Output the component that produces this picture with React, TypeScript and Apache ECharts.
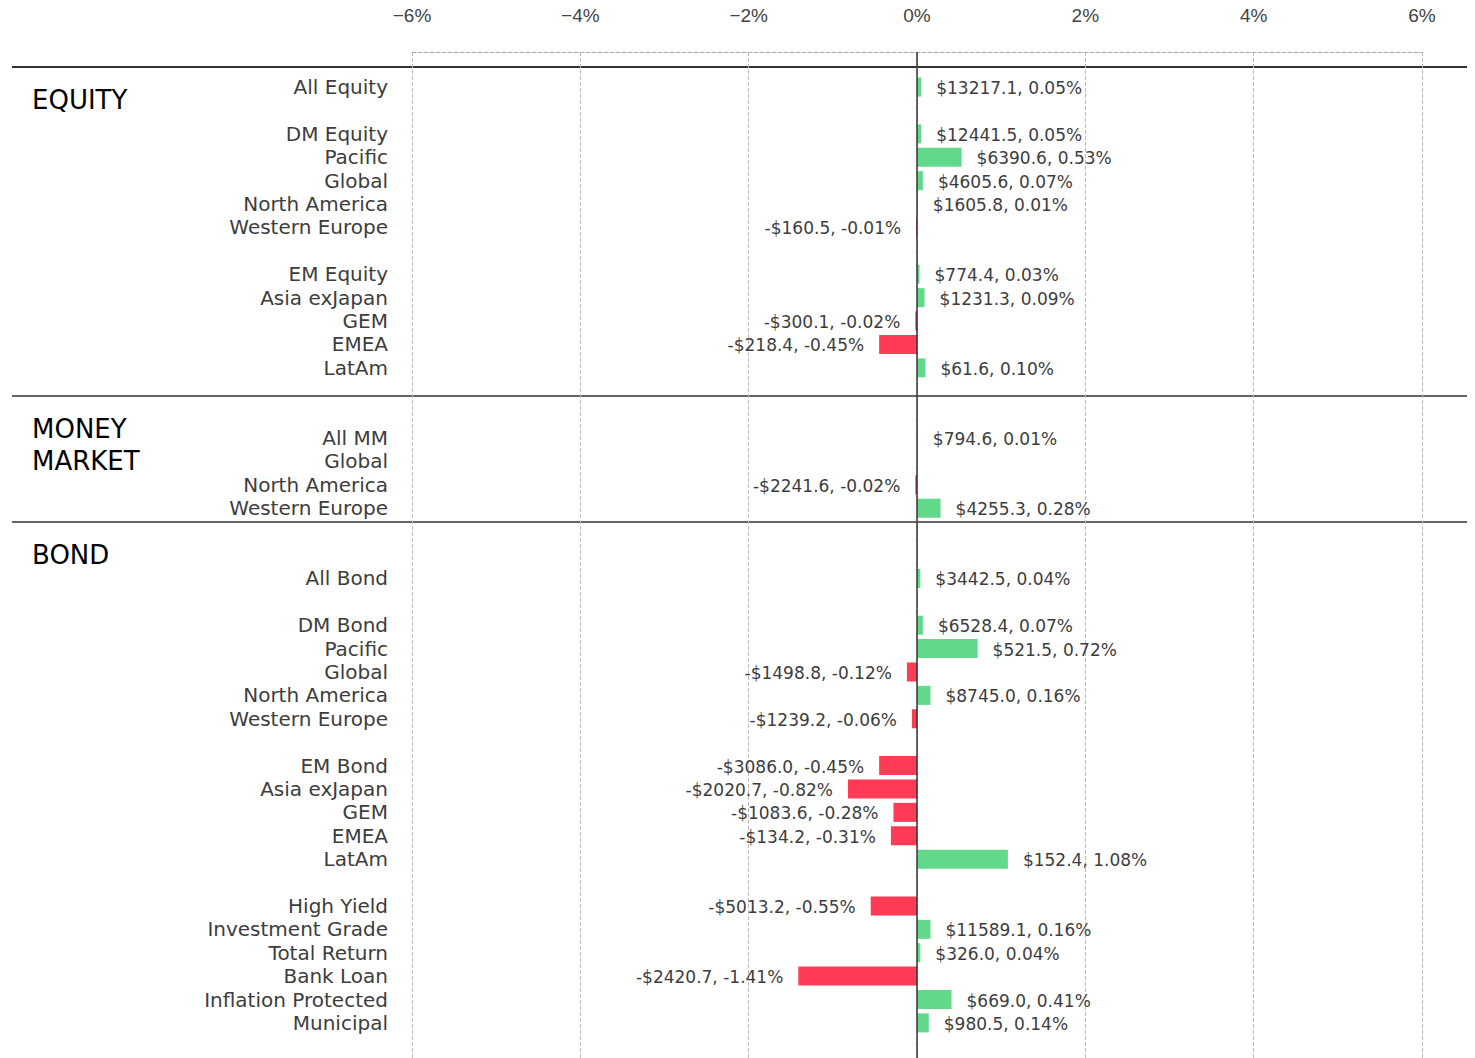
import React, { useEffect, useRef } from "react";
import * as echarts from "echarts";

// Row labels (blank strings are spacer rows)
const categories: string[] = [
  "",
  "All Equity", "",
  "DM Equity", "Pacific", "Global", "North America", "Western Europe", "",
  "EM Equity", "Asia exJapan", "GEM", "EMEA", "LatAm", "", "",
  "All MM", "Global", "North America", "Western Europe", "", "",
  "All Bond", "",
  "DM Bond", "Pacific", "Global", "North America", "Western Europe", "",
  "EM Bond", "Asia exJapan", "GEM", "EMEA", "LatAm", "",
  "High Yield", "Investment Grade", "Total Return", "Bank Loan", "Inflation Protected", "Municipal",
  "",
];

// Flows in $M (null = no data)
const flows: (number | null)[] = [
  null,
  13217.1, null,
  12441.5, 6390.6, 4605.6, 1605.8, -160.5, null,
  774.4, 1231.3, -300.1, -218.4, 61.6, null, null,
  794.6, null, -2241.6, 4255.3, null, null,
  3442.5, null,
  6528.4, 521.5, -1498.8, 8745.0, -1239.2, null,
  -3086.0, -2020.7, -1083.6, -134.2, 152.4, null,
  -5013.2, 11589.1, 326.0, -2420.7, 669.0, 980.5,
  null,
];

// Flows as % of assets
const pcts: (number | null)[] = [
  null,
  0.05, null,
  0.05, 0.53, 0.07, 0.01, -0.01, null,
  0.03, 0.09, -0.02, -0.45, 0.10, null, null,
  0.01, null, -0.02, 0.28, null, null,
  0.04, null,
  0.07, 0.72, -0.12, 0.16, -0.06, null,
  -0.45, -0.82, -0.28, -0.31, 1.08, null,
  -0.55, 0.16, 0.04, -1.41, 0.41, 0.14,
  null,
];

const xTicks = { min: -6, max: 6, interval: 2 };

const GREEN = "#62d88a";
const RED = "#ff3b55";
const LABEL_FONT = "'DejaVu Sans', sans-serif";

export default function App() {
  const ref = useRef<HTMLDivElement>(null);

  useEffect(() => {
    if (!ref.current) return;
    const chart = echarts.init(ref.current, undefined, { renderer: "svg" });

    const data = pcts.map((p) => {
      if (p === null) return { value: null };
      const pos = p >= 0;
      return {
        value: p,
        itemStyle: { color: pos ? GREEN : RED },
        label: { position: pos ? "right" : "left" },
      };
    });

    const fmtFlow = (f: number) =>
      (f < 0 ? "-$" : "$") + Math.abs(f).toFixed(1);

    chart.setOption({
      animation: false,
      grid: { left: 412, top: 52, width: 1010, height: 1010.5 },
      xAxis: {
        type: "value",
        position: "top",
        min: xTicks.min,
        max: xTicks.max,
        interval: xTicks.interval,
        axisLine: { show: true, lineStyle: { color: "#aaaaaa", type: "dashed", width: 1 } },
        axisTick: { show: false },
        axisLabel: {
          formatter: (v: number) => (v < 0 ? "\u2212" + Math.abs(v) : String(v)) + "%",
          fontFamily: "'Liberation Sans', Arial, sans-serif",
          fontSize: 19,
          color: "#444444",
          margin: 27,
        },
        splitLine: { show: true, lineStyle: { color: "#bbbbbb", type: "dashed", width: 1 } },
      },
      yAxis: {
        type: "category",
        inverse: true,
        data: categories,
        axisLine: { show: false },
        axisTick: { show: false },
        splitLine: { show: false },
        axisLabel: {
          interval: 0,
          fontFamily: LABEL_FONT,
          fontSize: 20,
          color: "#3d3d3d",
          margin: 24,
        },
      },
      series: [
        {
          type: "bar",
          data,
          barWidth: 19,
          label: {
            show: true,
            distance: 15,
            fontFamily: LABEL_FONT,
            fontSize: 17,
            color: "#3d3d3d",
            offset: [0, 1],
            formatter: (p: any) => {
              const f = flows[p.dataIndex];
              const v = pcts[p.dataIndex];
              if (f === null || v === null) return "";
              return `${fmtFlow(f)}, ${v.toFixed(2)}%`;
            },
          },
          markLine: {
            silent: true,
            symbol: "none",
            label: { show: false },
            lineStyle: { color: "#333333", type: "solid", width: 1.5 },
            data: [{ xAxis: 0 }],
          },
        },
      ],
      graphic: [
        { type: "line", shape: { x1: 12, y1: 67, x2: 1467, y2: 67 }, style: { stroke: "#333333", lineWidth: 2 } },
        { type: "line", shape: { x1: 12, y1: 396, x2: 1467, y2: 396 }, style: { stroke: "#333333", lineWidth: 1.5 } },
        { type: "line", shape: { x1: 12, y1: 522, x2: 1467, y2: 522 }, style: { stroke: "#333333", lineWidth: 1.5 } },
        {
          type: "text", x: 32, y: 100,
          style: { text: "EQUITY", fill: "#000000", font: "26px 'DejaVu Sans', sans-serif", textVerticalAlign: "middle" },
        },
        {
          type: "text", x: 32, y: 445,
          style: { text: "MONEY\nMARKET", fill: "#000000", font: "26px 'DejaVu Sans', sans-serif", lineHeight: 32, textVerticalAlign: "middle" },
        },
        {
          type: "text", x: 32, y: 555,
          style: { text: "BOND", fill: "#000000", font: "26px 'DejaVu Sans', sans-serif", textVerticalAlign: "middle" },
        },
      ],
    });

    return () => chart.dispose();
  }, []);

  return (
    <div
      ref={ref}
      style={{ position: "fixed", left: 0, top: 0, width: 1475, height: 1058, background: "#ffffff" }}
    />
  );
}
